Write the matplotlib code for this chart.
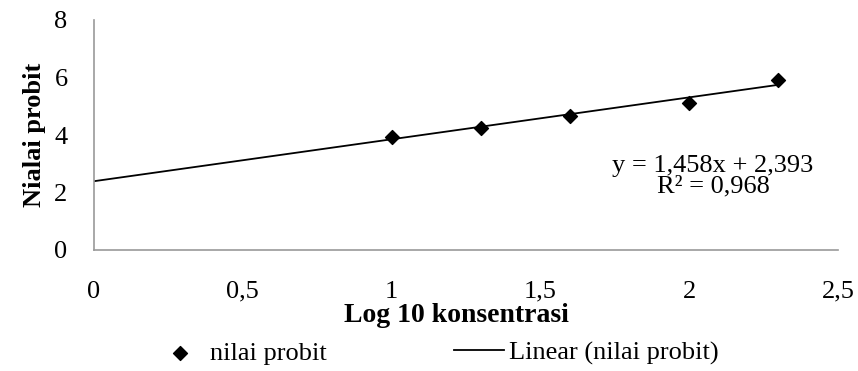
import matplotlib
matplotlib.use("Agg")
import matplotlib.pyplot as plt
import numpy as np

log_conc = [1.0, 1.3, 1.6, 2.0, 2.3]
probit = [3.94, 4.25, 4.66, 5.13, 5.91]
slope = 1.458
intercept = 2.393
r2_text = "R² = 0,968"
eq_text = "y = 1,458x + 2,393"
x_ticks = [0, 0.5, 1, 1.5, 2, 2.5]
x_tick_labels = ["0", "0,5", "1", "1,5", "2", "2,5"]
y_ticks = [0, 2, 4, 6, 8]

plt.rcParams['font.family'] = ['Liberation Serif', 'DejaVu Serif']
fs = 19

fig = plt.figure(figsize=(8.58, 3.71), dpi=100)
W, H = 858, 371
ax = fig.add_axes([94 / W, 1 - 250 / H, (838 - 94) / W, (250 - 20) / H])

xl = np.array([0.0, max(log_conc)])
ax.plot(xl, slope * xl + intercept, color='black', lw=1.3, label='Linear (nilai probit)', zorder=2)
ax.scatter(log_conc, probit, marker='D', s=50, color='black', zorder=3, label='nilai probit')

ax.set_xlim(0, 2.5)
ax.set_ylim(0, 8)
ax.set_xticks(x_ticks)
ax.set_xticklabels(x_tick_labels)
ax.set_yticks(y_ticks)
ax.tick_params(axis='both', length=0, labelsize=fs)
ax.tick_params(axis='x', pad=22)
ax.tick_params(axis='y', pad=19)
for s in ['top', 'right']:
    ax.spines[s].set_visible(False)
for s in ['left', 'bottom']:
    ax.spines[s].set_color('#999999')
    ax.spines[s].set_linewidth(1.2)

ax.set_xlabel('Log 10 konsentrasi', fontsize=20, fontweight='bold')
ax.xaxis.set_label_coords((456 - 94) / 744, -(303 - 250) / 230, transform=ax.transAxes)
ax.xaxis.label.set_va('top')
ax.set_ylabel('Nialai probit', fontsize=fs, fontweight='bold', labelpad=6)

ax.text(2.08, 2.57, eq_text + "\n" + r2_text, fontsize=fs, ha='center', va='center',
        linespacing=0.95)

h, l = ax.get_legend_handles_labels()
leg = fig.legend([h[1], h[0]], [l[1], l[0]], loc='center', bbox_to_anchor=(437 / W, 1 - 353 / H),
                 ncol=2, frameon=False, fontsize=fs, columnspacing=4.8, handlelength=1.9,
                 handletextpad=0.2, borderaxespad=0, borderpad=0)

fig.savefig('out.png', dpi=100)
